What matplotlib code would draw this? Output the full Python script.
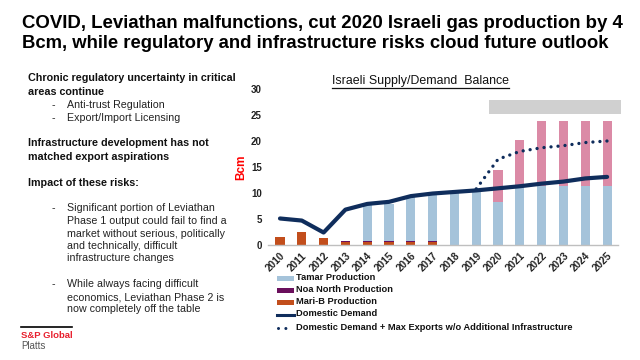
import matplotlib
matplotlib.use("Agg")
import matplotlib.pyplot as plt
import numpy as np

plt.rcParams['font.family'] = ['Liberation Sans', 'DejaVu Sans']

years = ["2010", "2011", "2012", "2013", "2014", "2015", "2016", "2017",
         "2018", "2019", "2020", "2021", "2022", "2023", "2024", "2025"]
mari_b = [1.5, 2.5, 1.3, 0.6, 0.6, 0.6, 0.6, 0.6, 0, 0, 0, 0, 0, 0, 0, 0]
noa_north = [0, 0, 0, 0.2, 0.2, 0.2, 0.2, 0.2, 0, 0, 0, 0, 0, 0, 0, 0]
tamar = [0, 0, 0, 0, 7.0, 7.1, 8.6, 9.0, 10.2, 10.5, 8.3, 11.0, 11.4, 11.4, 11.4, 11.4]
leviathan = [0, 0, 0, 0, 0, 0, 0, 0, 0, 0, 6.1, 9.2, 12.5, 12.5, 12.5, 12.5]
domestic = [5.1, 4.7, 2.4, 6.8, 7.9, 8.3, 9.4, 9.9, 10.2, 10.5, 10.9, 11.3, 11.8, 12.2, 12.8, 13.1]
dem_exp_years = ["2019", "2020", "2021", "2022", "2023", "2024", "2025"]
dem_exp = [10.8, 16.5, 18.0, 18.7, 19.1, 19.7, 20.0]
yticks = [0, 5, 10, 15, 20, 25, 30]

C_TAMAR = "#A5C3DA"
C_NOA = "#6A0F5C"
C_MARI = "#C24E1C"
C_LEV = "#DB8AA6"
C_DEM = "#0F2D5C"

W, H = 640, 360
fig = plt.figure(figsize=(6.4, 3.6), dpi=100)
fig.patch.set_facecolor("white")

def fx(px):
    return px / W

def fy(py):
    return 1 - py / H

renderer = fig.canvas.get_renderer()

def fit_text(s, x0, yc, width, **kw):
    t = fig.text(fx(x0), fy(yc), s, ha="left", va="center", fontsize=10, **kw)
    w = t.get_window_extent(renderer).width
    t.set_fontsize(10 * width / w)
    return t

# Main title
fit_text("COVID, Leviathan malfunctions, cut 2020 Israeli gas production by 4", 22, 23, 602,
         fontweight="bold", color="black")
fit_text("Bcm, while regulatory and infrastructure risks cloud future outlook", 22, 44, 590,
         fontweight="bold", color="black")

# Left text
t0 = fit_text("Chronic regulatory uncertainty in critical", 28, 78, 208, fontweight="bold", color="#111111")
bsz = t0.get_fontsize()
t1 = fit_text("Significant portion of Leviathan", 67, 208, 146, color="#222222")
rsz = t1.get_fontsize()

def bt(s, x, y):
    fig.text(fx(x), fy(y), s, ha="left", va="center", fontsize=bsz, fontweight="bold", color="#111111")

def rt(s, x, y):
    fig.text(fx(x), fy(y), s, ha="left", va="center", fontsize=rsz, color="#222222")

bt("areas continue", 28, 92)
rt("-", 52, 105); rt("Anti-trust Regulation", 67, 105)
rt("-", 52, 118); rt("Export/Import Licensing", 67, 118)
bt("Infrastructure development has not", 28, 143)
bt("matched export aspirations", 28, 157)
bt("Impact of these risks:", 28, 183)
rt("-", 52, 208)
for s, y in [("Phase 1 output could fail to find a", 221),
             ("market without serious, politically", 234),
             ("and technically, difficult", 246),
             ("infrastructure changes", 258)]:
    rt(s, 67, y)
rt("-", 52, 284)
for s, y in [("While always facing difficult", 284),
             ("economics, Leviathan Phase 2 is", 297),
             ("now completely off the table", 309)]:
    rt(s, 67, y)

# Logo
fig.add_artist(plt.Line2D([fx(21), fx(72)], [fy(327), fy(327)], color="black", lw=1.2))
fig.text(fx(21), fy(335), "S&P Global", ha="left", va="center", fontsize=6.8, fontweight="bold", color="#E8202E")
fig.text(fx(21), fy(346), "Platts", ha="left", va="center", fontsize=7, color="#555555")

# Chart
ax = fig.add_axes([fx(268), fy(245), fx(618) - fx(268), fy(89) - fy(245)])
x = np.arange(len(years))
bw = 0.42
mari = np.array(mari_b)
noa = np.array(noa_north)
tam = np.array(tamar)
lev = np.array(leviathan)
ax.bar(x, mari, bw, color=C_MARI, zorder=2)
ax.bar(x, noa, bw, bottom=mari, color=C_NOA, zorder=2)
ax.bar(x, tam, bw, bottom=mari + noa, color=C_TAMAR, zorder=2)
ax.bar(x, lev, bw, bottom=mari + noa + tam, color=C_LEV, zorder=2)
ax.plot(x, domestic, color=C_DEM, lw=3.0, zorder=4, solid_capstyle="round", solid_joinstyle="round")
xd = [years.index(y) for y in dem_exp_years]
ax.plot(xd, dem_exp, color=C_DEM, lw=2.4, linestyle=(0, (0.01, 2.1)), dash_capstyle="round", zorder=5)

ax.set_xlim(-0.55, 15.5)
ax.set_ylim(0, 30)
ax.set_yticks(yticks)
ax.set_yticklabels([str(v) for v in yticks], fontsize=7, fontweight="bold", color="#222222")
ax.set_xticks(x)
ax.set_xticklabels(years, rotation=45, ha="right", va="top", fontsize=7.2, fontweight="bold",
                   color="#222222", rotation_mode="anchor")
ax.tick_params(axis="both", length=0)
ax.tick_params(axis="y", pad=4.5)
ax.tick_params(axis="x", pad=4)
for s in ["top", "right", "left"]:
    ax.spines[s].set_visible(False)
ax.spines["bottom"].set_color("#BFBFBF")
ax.spines["bottom"].set_linewidth(1)

# gray band
fig.add_artist(plt.Rectangle((fx(489), fy(114)), fx(621) - fx(489), fy(100) - fy(114),
                             color="#D0D0D0", lw=0))

# Chart title
tt = fit_text("Israeli Supply/Demand  Balance", 332, 81, 177, color="#111111")
fig.add_artist(plt.Line2D([fx(332), fx(509)], [fy(88), fy(88)], color="#111111", lw=0.9))

fig.text(fx(241), fy(167), "Bcm", rotation=90, ha="center", va="center", fontsize=8.5,
         fontweight="bold", color="#FF0000")

# Legend (manual)
leg = [("Tamar Production", "rect", C_TAMAR),
       ("Noa North Production", "rect", C_NOA),
       ("Mari-B Production", "rect", C_MARI),
       ("Domestic Demand", "line", C_DEM),
       ("Domestic Demand + Max Exports w/o Additional Infrastructure", "dot", C_DEM)]
ys = [278, 290, 302, 314, 327]
tl = fit_text(leg[-1][0], 296, ys[-1], 276, color="#111111", fontweight="bold")
lsz = tl.get_fontsize()
for (lab, kind, col), y in zip(leg, ys):
    if kind == "rect":
        fig.add_artist(plt.Rectangle((fx(277), fy(y + 2.5)), fx(294) - fx(277), fy(y - 2.5) - fy(y + 2.5),
                                     color=col, lw=0))
    elif kind == "line":
        fig.add_artist(plt.Line2D([fx(277), fx(294)], [fy(y + 1), fy(y + 1)], color=col, lw=2.2))
    else:
        fig.add_artist(plt.Line2D([fx(278), fx(292)], [fy(y + 1), fy(y + 1)], color=col, lw=2.2,
                                  linestyle=(0, (0.01, 2.4)), dash_capstyle="round"))
    if kind != "dot":
        fig.text(fx(296), fy(y), lab, ha="left", va="center", fontsize=lsz, color="#111111",
                 fontweight="bold")

fig.savefig("out.png", dpi=100, facecolor="white")
